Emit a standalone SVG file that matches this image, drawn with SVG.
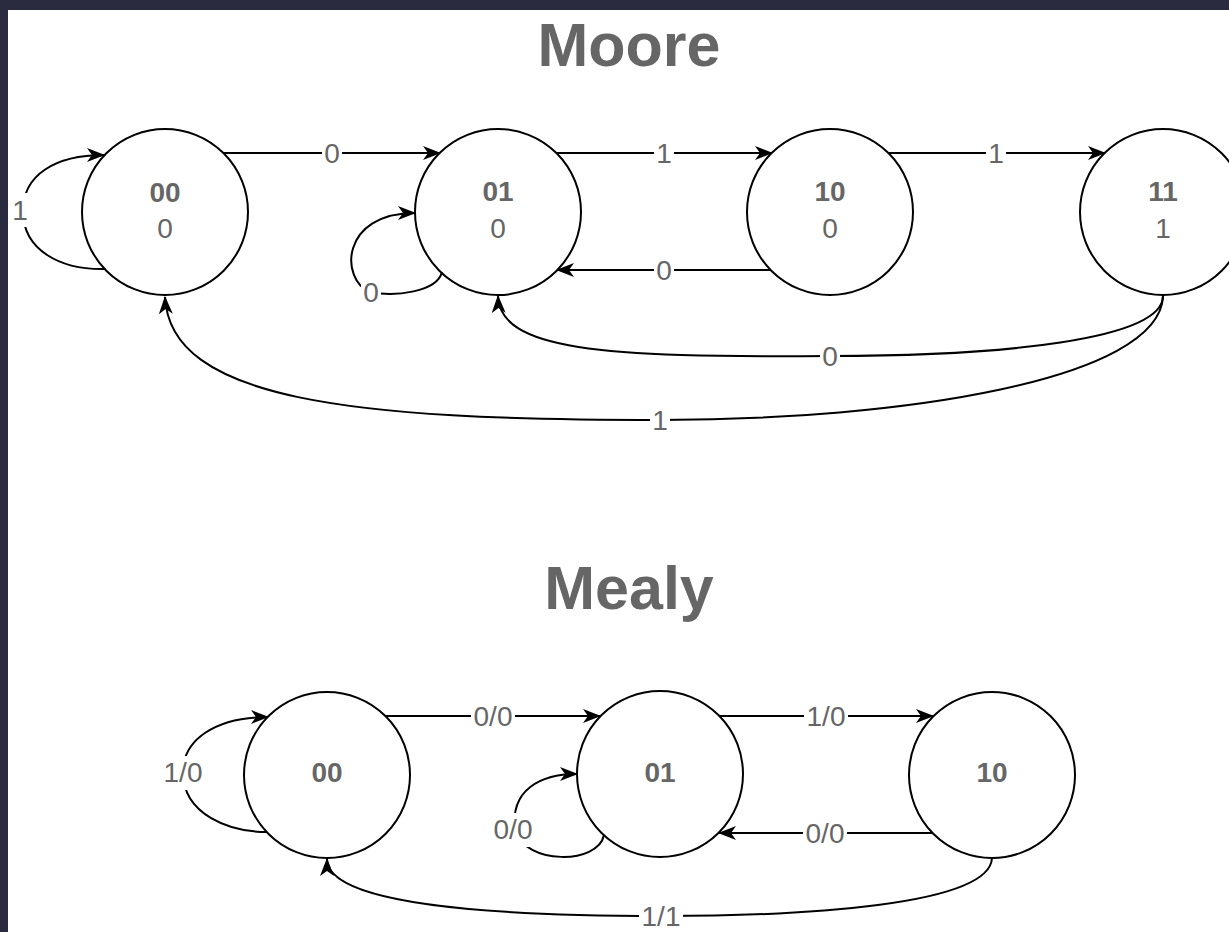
<svg xmlns="http://www.w3.org/2000/svg" width="1229" height="932" viewBox="0 0 1229 932">
<style>
.title{font-family:"Liberation Sans",Arial,sans-serif;font-weight:bold;font-size:61px;fill:#666666;text-anchor:middle}
.nb{font-family:"Liberation Sans",Arial,sans-serif;font-weight:bold;font-size:28px;fill:#666666;text-anchor:middle}
.nr{font-family:"Liberation Sans",Arial,sans-serif;font-size:28px;fill:#666666;text-anchor:middle}
.lbl{font-family:"Liberation Sans",Arial,sans-serif;font-size:28px;fill:#666666;text-anchor:middle}
.node{fill:#ffffff;stroke:#000000;stroke-width:2}
.edge{fill:none;stroke:#000000;stroke-width:2;marker-end:url(#arr)}
.bg{fill:#ffffff}
</style>
<defs>
<marker id="arr" viewBox="0 0 18 14" refX="17" refY="7" markerWidth="18" markerHeight="14" markerUnits="userSpaceOnUse" orient="auto">
<path d="M0,0 L18,7 L0,14 L5,7 Z" fill="#000000"/>
</marker>
</defs>
<rect x="0" y="0" width="1229" height="932" fill="#2b2b40"/>
<rect x="8" y="10" width="1221" height="922" fill="#ffffff"/>
<text class="title" x="629" y="66">Moore</text>
<text class="title" x="629" y="609">Mealy</text>

<g id="moore-00"><circle class="node" cx="165" cy="212" r="83"/><text class="nb" x="165" y="202">00</text><text class="nr" x="165" y="238">0</text></g>
<g id="moore-01"><circle class="node" cx="498" cy="212" r="83"/><text class="nb" x="498" y="201">01</text><text class="nr" x="498" y="238">0</text></g>
<g id="moore-10"><circle class="node" cx="830" cy="212" r="83"/><text class="nb" x="830" y="201">10</text><text class="nr" x="830" y="238">0</text></g>
<g id="moore-11"><circle class="node" cx="1163" cy="212" r="83"/><text class="nb" x="1163" y="201">11</text><text class="nr" x="1163" y="238">1</text></g>

<g id="mealy-00"><circle class="node" cx="327" cy="775" r="83"/><text class="nb" x="327" y="782">00</text></g>
<g id="mealy-01"><circle class="node" cx="660" cy="774" r="83"/><text class="nb" x="660" y="782">01</text></g>
<g id="mealy-10"><circle class="node" cx="992" cy="775" r="83"/><text class="nb" x="992" y="782">10</text></g>

<g id="connectors">
<!-- Moore -->
<g><path class="edge" d="M223,153 L440,153"/><rect class="bg" x="322" y="137" width="20" height="32"/><text class="lbl" x="332" y="163">0</text></g>
<g><path class="edge" d="M556,153 L772,153"/><rect class="bg" x="654" y="137" width="20" height="32"/><text class="lbl" x="664" y="163">1</text></g>
<g><path class="edge" d="M888,153 L1105,153"/><rect class="bg" x="986" y="137" width="20" height="32"/><text class="lbl" x="996" y="163">1</text></g>
<g><path class="edge" d="M771,270 L557,270"/><rect class="bg" x="654" y="254" width="20" height="32"/><text class="lbl" x="664" y="280">0</text></g>
<g><path class="edge" d="M105,269 C60,270 23,250 23,211 C23,175 55,155 104,155"/><rect class="bg" x="10" y="193" width="20" height="34"/><text class="lbl" x="20" y="220">1</text></g>
<g><path class="edge" d="M442,272 C437,292 395,297 370,292 C340,280 340,213 415,213"/><rect class="bg" x="361" y="277" width="20" height="32"/><text class="lbl" x="371" y="302">0</text></g>
<g><path class="edge" d="M1163,296 C1163,340 1000,356 830,356 C600,358 500,350 498,296"/><rect class="bg" x="820" y="340" width="20" height="32"/><text class="lbl" x="830" y="366">0</text></g>
<g><path class="edge" d="M1163,296 C1160,380 900,420 660,420 C350,420 170,400 165,297"/><rect class="bg" x="650" y="404" width="20" height="32"/><text class="lbl" x="660" y="430">1</text></g>
<!-- Mealy -->
<g><path class="edge" d="M385,716 L600,716"/><rect class="bg" x="471" y="700" width="44" height="32"/><text class="lbl" x="493" y="726">0/0</text></g>
<g><path class="edge" d="M719,716 L933,716"/><rect class="bg" x="804" y="700" width="44" height="32"/><text class="lbl" x="826" y="726">1/0</text></g>
<g><path class="edge" d="M933,833 L719,833"/><rect class="bg" x="803" y="817" width="44" height="32"/><text class="lbl" x="825" y="843">0/0</text></g>
<g><path class="edge" d="M267,832 C230,832 183,815 183,772 C183,740 215,717 268,717"/><rect class="bg" x="161" y="756" width="44" height="34"/><text class="lbl" x="183" y="782">1/0</text></g>
<g><path class="edge" d="M604,835 C598,865 525,865 515,830 C510,790 540,774 577,774"/><rect class="bg" x="491" y="813" width="44" height="34"/><text class="lbl" x="513" y="839">0/0</text></g>
<g><path class="edge" d="M992,858 C990,906 800,916 661,916 C480,916 327,903 327,859"/><rect class="bg" x="639" y="901" width="44" height="30"/><text class="lbl" x="661" y="926">1/1</text></g>
</g>
</svg>
